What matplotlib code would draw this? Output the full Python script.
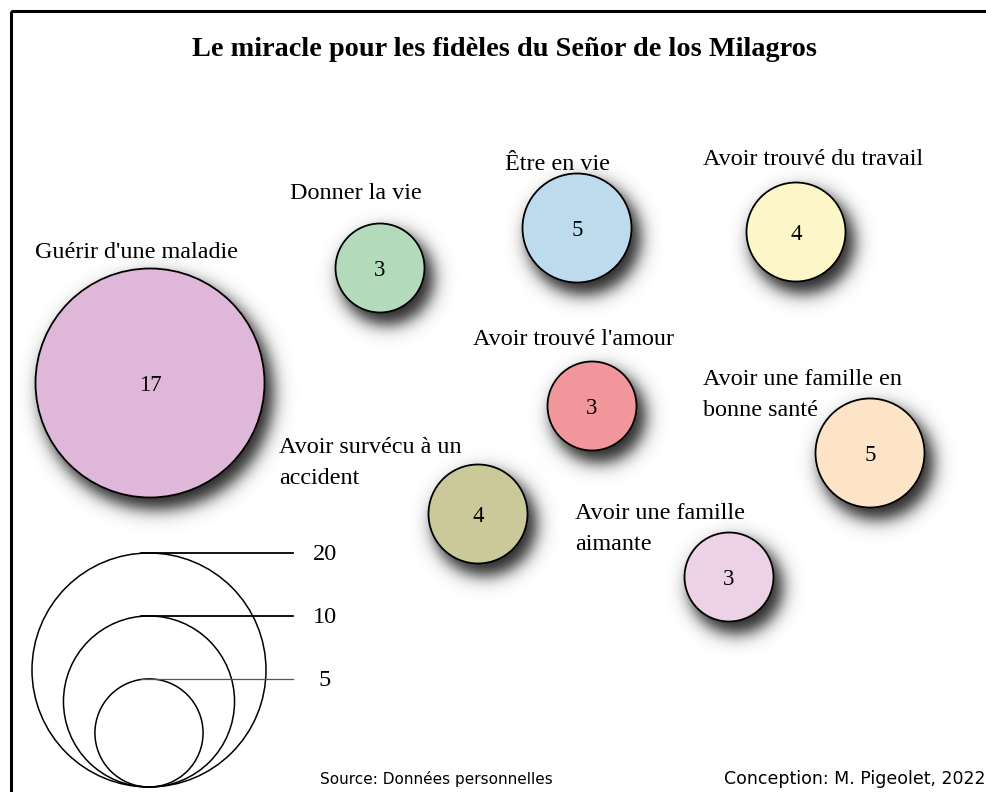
import numpy as np
import matplotlib
matplotlib.use("Agg")
import matplotlib.pyplot as plt
from matplotlib.patches import Circle, Rectangle

# data
categories = ["Guérir d'une maladie", "Donner la vie", "Être en vie",
              "Avoir trouvé du travail", "Avoir trouvé l'amour",
              "Avoir une famille en\nbonne santé",
              "Avoir survécu à un\naccident",
              "Avoir une famille\naimante"]
counts = [17, 3, 5, 4, 3, 5, 4, 3]
colors = ["#dfb7d8", "#b3dbbb", "#bedbee", "#fcf6c8",
          "#f1969a", "#fde4c6", "#cbc99a", "#edd1e6"]
legend_values = [20, 10, 5]

# layout in pixels (free-form bubble placement)
centers = [(150, 383), (380, 268), (577, 228), (796, 232),
           (592, 406), (870, 453), (478, 514), (729, 577)]
label_pos = [(35, 258), (290, 199), (505, 170), (703, 165),
             (473, 345), (703, 385), (279, 453), (575, 519)]

W, H = 987, 792
SERIF = "Liberation Serif"


def radius(v):
    return 29.5 + 5.0 * v


def legend_radius(v):
    return 45.4 * np.log(v) - 19


fig = plt.figure(figsize=(W / 100, H / 100), dpi=100)
ax = fig.add_axes([0, 0, 1, 1])
ax.set_xlim(0, W)
ax.set_ylim(H, 0)
ax.axis("off")

# soft drop shadows
yy, xx = np.mgrid[0:H, 0:W] + 0.5
alpha = np.zeros((H, W))
for (cx, cy), v in zip(centers, counts):
    d = np.hypot(xx - (cx + 7), yy - (cy + 10))
    a = 0.85 * 0.5 * (1 - np.tanh((d - radius(v) - 2) / 10.0))
    alpha = 1 - (1 - alpha) * (1 - a)
shadow = np.zeros((H, W, 4))
shadow[..., 3] = alpha
ax.imshow(shadow, extent=(0, W, H, 0), zorder=1, interpolation="bilinear")

# bubbles
for (cx, cy), v, c in zip(centers, counts, colors):
    ax.add_patch(Circle((cx, cy), radius(v), facecolor=c, edgecolor="black",
                        linewidth=1.3, zorder=2))
    ax.text(cx, cy, str(v), ha="center", va="center_baseline",
            fontsize=16.5, family=SERIF, zorder=3)

# category labels
for (lx, ly), name in zip(label_pos, categories):
    for i, line in enumerate(name.split("\n")):
        ax.text(lx, ly + i * 31, line, ha="left", va="baseline",
                fontsize=17.4, family=SERIF, zorder=3)

# size legend
lcx, lbottom = 149, 787
for v in legend_values:
    r = legend_radius(v)
    ax.add_patch(Circle((lcx, lbottom - r), r, facecolor="none",
                        edgecolor="black", linewidth=1.1, zorder=2))
    top = lbottom - 2 * r
    col, lw = ("black", 1.3) if v >= 10 else ("#555555", 0.9)
    ax.plot([lcx - 8, 293], [top, top], color=col, linewidth=lw, zorder=2)
    ax.text(325, top + 2, str(v), ha="center", va="center",
            fontsize=17.5, family=SERIF, zorder=3)

# title, sources, frame
ax.text(504, 50, "Le miracle pour les fidèles du Señor de los Milagros",
        ha="center", va="center", fontsize=20.3, fontweight="bold",
        family=SERIF)
ax.text(320, 784, "Source: Données personnelles", ha="left",
        va="baseline", fontsize=11, family="DejaVu Sans")
ax.text(985, 784, "Conception: M. Pigeolet, 2022", ha="right",
        va="baseline", fontsize=12.5, family="DejaVu Sans")
ax.add_patch(Rectangle((10.5, 10.5), 1000, 1000, facecolor="none",
                       edgecolor="black", linewidth=2.2, zorder=5))

fig.savefig("out.png", dpi=100)
